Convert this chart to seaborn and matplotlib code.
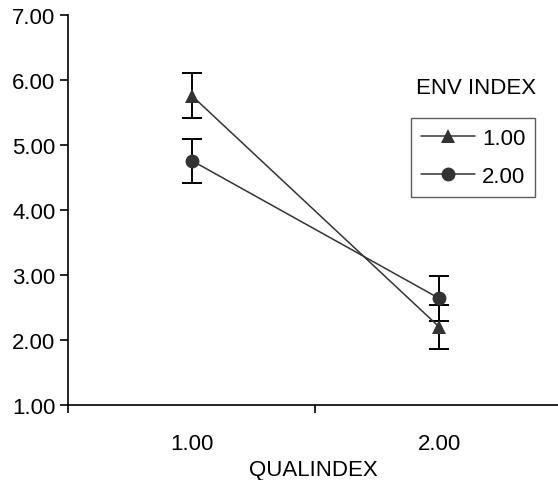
import matplotlib
matplotlib.use("Agg")
import matplotlib.pyplot as plt
import seaborn as sns
import pandas as pd

# valores
qual_index = [1.0, 2.0]
env_labels = ["1.00", "2.00"]
env1_mean = [5.76, 2.20]
env2_mean = [4.76, 2.64]
env1_err = [0.345, 0.345]
env2_err = [0.34, 0.35]

df = pd.DataFrame({
    "QUALINDEX": qual_index * 2,
    "ENV INDEX": [env_labels[0]] * 2 + [env_labels[1]] * 2,
    "value": env1_mean + env2_mean,
    "err": env1_err + env2_err,
})

sns.set_style("white")
plt.rcParams["font.family"] = ["Liberation Sans", "DejaVu Sans"]
plt.rcParams["text.color"] = "black"
plt.rcParams["xtick.color"] = "black"
plt.rcParams["ytick.color"] = "black"
plt.rcParams["axes.labelcolor"] = "black"

fig = plt.figure(figsize=(5.58, 4.81), dpi=100)
ax = fig.add_axes([68 / 558, 1 - 406 / 481, 1 - 68 / 558, 390 / 481])

color = "#333333"
sns.lineplot(data=df, x="QUALINDEX", y="value", hue="ENV INDEX", style="ENV INDEX",
             markers=["^", "o"], dashes=False, palette=[color, color],
             markersize=10, markeredgewidth=0, linewidth=1.1, ax=ax, legend=True)

# barras de error
ax.errorbar(df["QUALINDEX"], df["value"], yerr=df["err"], fmt="none",
            ecolor="black", elinewidth=1.4, capsize=7, capthick=1.4, zorder=1)

ax.set_xlim(0.5, 2.48)
ax.set_ylim(1, 7)
ax.set_yticks([1, 2, 3, 4, 5, 6, 7])
ax.set_yticklabels([f"{v:.2f}" for v in range(1, 8)])
ax.set_xticks([1.0, 2.0])
ax.set_xticklabels(["1.00", "2.00"])
ax.tick_params(axis="x", length=0, labelsize=16, pad=20)
ax.set_xticks([0.5, 1.5], minor=True)
ax.tick_params(axis="x", which="minor", bottom=True, length=6, width=1.2, direction="out")
ax.tick_params(axis="y", left=True, length=6, width=1.2, direction="out", labelsize=16, pad=3)

for s in ["top", "right"]:
    ax.spines[s].set_visible(False)
for s in ["left", "bottom"]:
    ax.spines[s].set_color("black")
    ax.spines[s].set_linewidth(1.2)

ax.set_xlabel("QUALINDEX", fontsize=16, labelpad=4)
ax.set_ylabel("")

handles, labels = ax.get_legend_handles_labels()
leg = ax.legend(handles, labels, loc="upper left", bbox_to_anchor=(411 / 558, 1 - 119 / 481),
                bbox_transform=fig.transFigure, fontsize=16, frameon=True, fancybox=False,
                handlelength=2.45, handletextpad=0.3, borderpad=0.45, labelspacing=0.75,
                borderaxespad=0)
leg.get_frame().set_edgecolor("#333333")
leg.get_frame().set_linewidth(1.0)
fig.text(476 / 558, 1 - 88 / 481, "ENV INDEX", fontsize=16, ha="center", va="center")

fig.savefig("out.png", dpi=100)
